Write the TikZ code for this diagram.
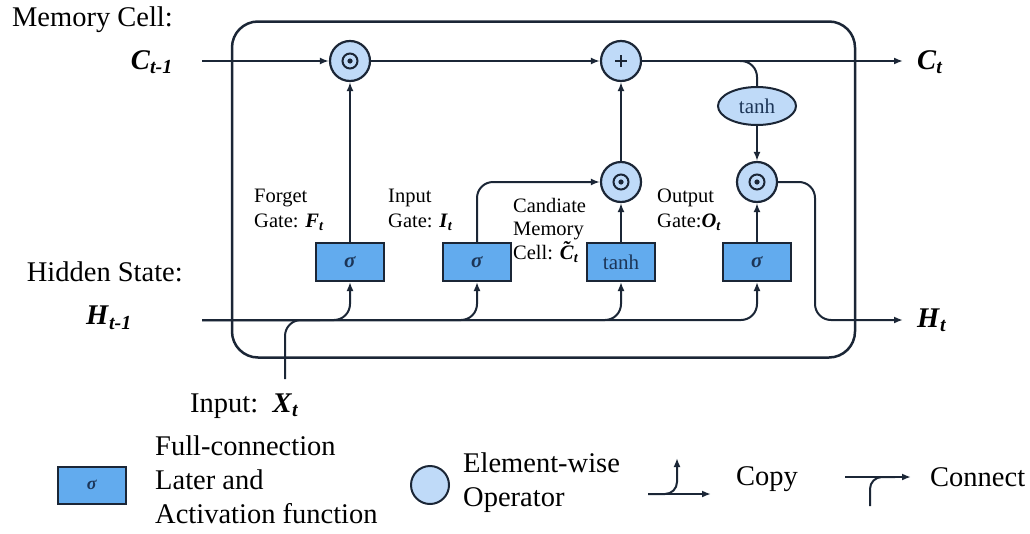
\documentclass[tikz,border=0pt]{standalone}
\usepackage{fontspec}
\setmainfont{Liberation Serif}
\usetikzlibrary{shapes.geometric,arrows.meta}
\definecolor{opfill}{HTML}{BFDAF8}
\definecolor{boxfill}{HTML}{62ABEE}
\definecolor{edge}{HTML}{1B2636}
\definecolor{boxtext}{HTML}{1C3557}
\newcommand{\bi}[1]{\textbf{\textit{#1}}}
\newcommand{\tildeC}{\ooalign{\bi{C}\cr\hidewidth\raisebox{0.2em}{\bi{\char"02DC}}\hidewidth\cr}}
\begin{document}
\begin{tikzpicture}[x=1pt,y=-1pt,
  conn/.style={line width=2pt,draw=edge},
  arr/.style={conn,-{Latex[length=9pt,width=7pt]}},
  opnode/.style={circle,draw=edge,line width=2.2pt,fill=opfill,minimum size=40pt,inner sep=0pt},
  gatebox/.style={rectangle,draw=edge,line width=2pt,fill=boxfill,minimum width=68pt,minimum height=38pt,inner sep=0pt,text=boxtext,font=\fontsize{21}{22}\selectfont},
  bigtxt/.style={font=\fontsize{28.5}{34}\selectfont,inner sep=0pt},
  smalltxt/.style={font=\fontsize{20.5}{25}\selectfont,inner sep=0pt,align=left},
  cellframe/.style={draw=edge,line width=2.5pt,rounded corners=26pt}
]
\useasboundingbox (0,0) rectangle (1030,533);
% frame
\node[cellframe,minimum width=623pt,minimum height=336pt,inner sep=0pt] (frame) at (543.5,189.5) {};

% operators
\node[opnode] (m1) at (350,61) {};
\node[opnode] (plus) at (621,61) {};
\node[opnode] (m2) at (621,182) {};
\node[opnode] (m3) at (757,182) {};
\foreach \n in {m1,m2,m3}{
  \draw[edge,line width=2pt] (\n.center) circle (7.5pt);
  \fill[edge] (\n.center) circle (2.6pt);
}
\draw[edge,line width=1.4pt] ([xshift=-6pt]plus.center) -- ([xshift=6pt]plus.center)
  ([yshift=-6pt]plus.center) -- ([yshift=6pt]plus.center);
\node[ellipse,draw=edge,line width=2pt,fill=opfill,minimum width=78pt,minimum height=38pt,inner sep=0pt,font=\fontsize{21}{24}\selectfont,text=boxtext] (th) at (757,106) {tanh};

% gate boxes
\node[gatebox] (fg) at (350,262) {\bi{σ}};
\node[gatebox] (ig) at (477,262) {\bi{σ}};
\node[gatebox] (cg) at (621,262) {tanh};
\node[gatebox] (og) at (757,262) {\bi{σ}};

% endpoints
\coordinate (cin) at (202,61);
\coordinate (hin) at (202,320);
\coordinate (cout) at (903,61);
\coordinate (hout) at (903,320);
\coordinate (xin) at (285,379);
\coordinate (xjoin) at (320,320);
\coordinate (tapc) at (740,61);

% memory line
\draw[arr] (cin) -- (m1);
\draw[arr] (m1) -- (plus);
\draw[arr] (plus) -- (cout);
\draw[conn,rounded corners=16pt] (tapc) -| (th.north);
\draw[arr] (th) -- (m3);
\draw[arr] (fg) -- (m1);
\draw[arr] (m2) -- (plus);
\draw[arr] (cg) -- (m2);
\draw[arr] (og) -- (m3);
\draw[arr,rounded corners=16pt] (ig.north) |- (m2.west);
\draw[arr,rounded corners=16pt] (m3.east) -| (815,250) |- (hout);

% hidden line with copies
\draw[arr,rounded corners=16pt] (hin) -| (fg.south);
\draw[arr,rounded corners=16pt] (hin) -| (ig.south);
\draw[arr,rounded corners=16pt] (hin) -| (cg.south);
\draw[arr,rounded corners=16pt] (hin) -| (og.south);
% input joins
\draw[conn,rounded corners=16pt] (xin) |- (xjoin);

% labels
\node[bigtxt,anchor=north east] (lmc) at (173,7) {Memory Cell:};
\node[bigtxt,anchor=east] (lc) at (173,62) {\bi{C}\textsubscript{\bi{t-1}}};
\node[bigtxt,anchor=north east] (lhs) at (183,262) {Hidden State:};
\node[bigtxt,anchor=east] (lh) at (132,318) {\bi{H}\textsubscript{\bi{t-1}}};
\node[bigtxt,anchor=west] (lx) at (190,406) {Input:\ \ \bi{X}\textsubscript{\bi{t}}};
\node[bigtxt,anchor=west] (lct) at (917,62) {\bi{C}\textsubscript{\bi{t}}};
\node[bigtxt,anchor=west] (lht) at (917,320) {\bi{H}\textsubscript{\bi{t}}};

\node[smalltxt,anchor=north west] (lf) at (254,189) {Forget\\Gate: \bi{F}\textsubscript{\bi{t}}};
\node[smalltxt,anchor=north west] (li) at (388,189) {Input\\Gate: \bi{I}\textsubscript{\bi{t}}};
\node[smalltxt,anchor=north west,font=\fontsize{20.5}{23.5}\selectfont] (lcand) at (513,198) {Candiate\\Memory\\Cell: \tildeC\textsubscript{\bi{t}}};
\node[smalltxt,anchor=north west] (lo) at (657,189) {Output\\Gate:\bi{O}\textsubscript{\bi{t}}};

% legend
\node[gatebox,minimum width=68pt,minimum height=37pt,font=\fontsize{18}{20}\selectfont] (lgbox) at (92,485) {\bi{σ}};
\node[bigtxt,anchor=north west,align=left] (lgt1) at (155,436) {Full-connection\\Later and\\Activation function};
\node[circle,draw=edge,line width=2pt,fill=opfill,minimum size=38pt,inner sep=0pt] (lgop) at (430,485) {};
\node[bigtxt,anchor=north west,align=left] (lgt2) at (463,453) {Element-wise\\Operator};
\coordinate (cpa) at (648,494);
\coordinate (cpb) at (711,494);
\coordinate (cpc) at (677,458);
\draw[arr] (cpa) -- (cpb);
\draw[arr,rounded corners=12pt] (cpa) -| (cpc);
\node[bigtxt,anchor=west] (lgt3) at (736,479) {Copy};
\coordinate (cna) at (845,477);
\coordinate (cnb) at (911,477);
\coordinate (cnc) at (870,506);
\coordinate (cnd) at (895,477);
\draw[arr] (cna) -- (cnb);
\draw[conn,rounded corners=12pt] (cnc) |- (cnd);
\node[bigtxt,anchor=west] (lgt4) at (930,477) {Connect};
\end{tikzpicture}
\end{document}
